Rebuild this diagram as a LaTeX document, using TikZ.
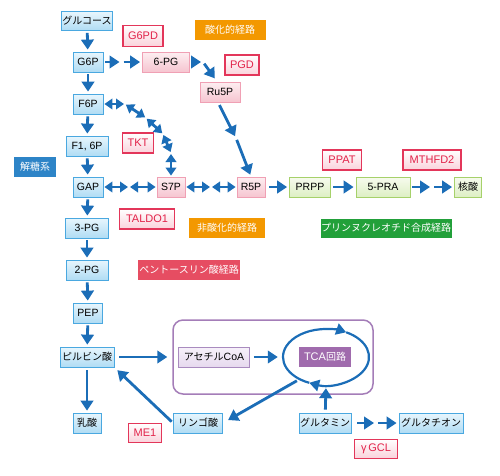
\documentclass[tikz,border=0pt]{standalone}
\usepackage{fontspec}
\setmainfont{Liberation Sans}
\newfontfamily\jp{Noto Sans CJK JP}
\usetikzlibrary{arrows.meta,shapes.geometric}
\definecolor{arr}{HTML}{1B6DB7}
\definecolor{blline}{HTML}{4AA8E0}
\definecolor{bltop}{HTML}{E8F6FD}
\definecolor{blbot}{HTML}{B0DCF4}
\definecolor{pkline}{HTML}{F0A0B4}
\definecolor{pktop}{HTML}{FDEEF1}
\definecolor{pkbot}{HTML}{F6C5D0}
\definecolor{enzline}{HTML}{E3365A}
\definecolor{enzbot}{HTML}{FAD2DB}
\definecolor{enztext}{HTML}{E2234A}
\definecolor{grline}{HTML}{A6D16A}
\definecolor{grtop}{HTML}{F7FBEE}
\definecolor{grbot}{HTML}{DDEFC4}
\definecolor{puline}{HTML}{A98BBF}
\definecolor{putop}{HTML}{F7F1FA}
\definecolor{pubot}{HTML}{E6D9EE}
\definecolor{mitoline}{HTML}{A47DB8}
\definecolor{laborange}{HTML}{F39800}
\definecolor{labblue}{HTML}{2D84C7}
\definecolor{labred}{HTML}{E64D62}
\definecolor{labgreen}{HTML}{22A03A}
\definecolor{labpurple}{HTML}{A06BAD}
\begin{document}
\begin{tikzpicture}[x=1pt,y=-1pt,
  sz/.style 2 args={minimum width=#1pt,minimum height=#2pt},
  box/.style={draw,line width=0.8pt,inner sep=0pt,font=\fontsize{10.5}{12}\selectfont},
  bl/.style={box,draw=blline,top color=bltop,bottom color=blbot},
  pk/.style={box,draw=pkline,top color=pktop,bottom color=pkbot},
  gr/.style={box,draw=grline,top color=grtop,bottom color=grbot},
  pu/.style={box,draw=puline,top color=putop,bottom color=pubot},
  enz/.style={box,draw=enzline,line width=1.2pt,top color=white,bottom color=enzbot,text=enztext,font=\fontsize{11}{12}\selectfont},
  lab/.style={inner sep=0pt,text=white,font=\jp\fontsize{10}{11}\selectfont},
  jt/.style={font=\jp\fontsize{10}{11}\selectfont},
  ar/.style={draw=arr,line width=2.8pt,-{Triangle[length=10pt,width=12.5pt]},shorten <=2pt,shorten >=2pt},
  dar/.style={draw=arr,line width=2.8pt,{Triangle[length=8pt,width=10.5pt]}-{Triangle[length=8pt,width=10.5pt]},shorten <=1pt,shorten >=1pt},
  ringar/.style={draw=arr,line width=2.2pt,-{Triangle[length=10pt,width=11.5pt]}}
]
\useasboundingbox (0,0) rectangle (500,475);
% mitochondrion frame
\node[draw=mitoline,line width=1.5pt,rounded corners=10pt,sz={200}{74}] (mito) at (273,357) {};
% glycolysis
\node[bl,sz={51}{19},jt] (glc) at (87,21) {グルコース};
\node[bl,sz={30}{20}] (g6p) at (88,62) {G6P};
\node[bl,sz={30}{20}] (f6p) at (88,104) {F6P};
\node[bl,sz={42}{20}] (f16p) at (87,146) {F1, 6P};
\node[bl,sz={30}{20}] (gap) at (88,187) {GAP};
\node[bl,sz={43}{20}] (pg3) at (87,228) {3-PG};
\node[bl,sz={42}{20}] (pg2) at (87,270) {2-PG};
\node[bl,sz={29}{20}] (pep) at (88,313) {PEP};
\node[bl,sz={54}{20},jt] (pyr) at (87,357) {ピルビン酸};
\node[bl,sz={28}{20},jt] (lac) at (87,423) {乳酸};
\node[bl,sz={49}{20},jt] (mal) at (198,423) {リンゴ酸};
\node[bl,sz={52}{20},jt] (gln) at (325,423) {グルタミン};
\node[bl,sz={64}{20},jt] (gsh) at (431,423) {グルタチオン};
% pentose phosphate
\node[pk,sz={47}{20}] (pg6) at (166,62) {6-PG};
\node[pk,sz={40}{20}] (ru5p) at (220,92) {Ru5P};
\node[pk,sz={28}{20}] (s7p) at (171,187) {S7P};
\node[pk,sz={28}{20}] (r5p) at (251,187) {R5P};
% purine
\node[gr,sz={41}{20}] (prpp) at (310,187) {PRPP};
\node[gr,sz={54}{20}] (pra) at (383,187) {5-PRA};
\node[gr,sz={27}{20},jt] (nuc) at (468,187) {核酸};
% mitochondrial
\node[pu,sz={71}{20}] (acoa) at (214,357) {{\jp\fontsize{10}{11}\selectfont アセチル}CoA};
\node[ellipse,inner sep=0pt,sz={86}{56}] (ring) at (326,357) {};
\node[lab,fill=labpurple,sz={52}{20},font=\fontsize{11}{12}\selectfont] (tca) at (325,357) {TCA{\jp\fontsize{10}{11}\selectfont 回路}};
% enzymes
\node[enz,sz={40}{21}] (e1) at (143,36) {G6PD};
\node[enz,sz={34}{20}] (e2) at (242,65) {PGD};
\node[enz,sz={31}{20}] (e3) at (138,143) {TKT};
\node[enz,sz={55}{20}] (e4) at (147,219) {TALDO1};
\node[enz,sz={39}{20}] (e5) at (342,160) {PPAT};
\node[enz,sz={58}{20}] (e6) at (432,160) {MTHFD2};
\node[enz,sz={33}{19}] (e7) at (145,433) {ME1};
\node[enz,sz={43}{19}] (e8) at (376,449) {γ\,GCL};
% pathway labels
\node[lab,fill=laborange,sz={71}{20}] (l1) at (230,30) {酸化的経路};
\node[lab,fill=laborange,sz={76}{20}] (l2) at (227,228) {非酸化的経路};
\node[lab,fill=labblue,sz={42}{20}] (l3) at (35,167) {解糖系};
\node[lab,fill=labred,sz={102}{20}] (l4) at (189,270) {ペントースリン酸経路};
\node[lab,fill=labgreen,sz={131}{19}] (l5) at (386,228) {プリンヌクレオチド合成経路};
% helper coordinates
\coordinate (m1) at (121.5,62);
\coordinate (m2) at (203,62);
\coordinate (t2) at (216,80);
\coordinate (m3) at (236,138);
\coordinate (k1) at (125,104);
\coordinate (k2) at (146,118);
\coordinate (k3) at (163,134);
\coordinate (k4) at (171,153);
\coordinate (m4) at (129,187);
\coordinate (m5) at (211,187);
\coordinate (m6) at (432,187);
\coordinate (m7) at (376,423);
% glycolysis arrows
\draw[ar] (glc) -- (g6p);
\draw[ar] (g6p) -- (f6p);
\draw[ar] (f6p) -- (f16p);
\draw[ar] (f16p) -- (gap);
\draw[ar] (gap) -- (pg3);
\draw[ar] (pg3) -- (pg2);
\draw[ar] (pg2) -- (pep);
\draw[ar] (pep) -- (pyr);
\draw[ar,shorten <=3pt] (pyr) -- (lac);
% oxidative branch
\draw[ar] (g6p) -- (m1);
\draw[ar] (m1) -- (pg6);
\draw[ar,shorten >=2pt] (pg6) -- (m2);
\draw[ar] (m2) -- (t2);
\draw[ar,shorten <=3pt] (ru5p.south) ++(-2,0) coordinate (rs) (rs) -- (m3);
\draw[ar] (m3) -- (r5p.north);
% non-oxidative arc
\draw[dar] (f6p) -- (k1);
\draw[dar] (k1) -- (k2);
\draw[dar] (k2) -- (k3);
\draw[dar] (k3) -- (k4);
\draw[dar] (k4) -- (s7p);
\draw[dar] (gap) -- (m4);
\draw[dar] (m4) -- (s7p);
\draw[dar] (s7p) -- (m5);
\draw[dar] (m5) -- (r5p);
% purine
\draw[ar,shorten <=4pt] (r5p) -- (prpp);
\draw[ar] (prpp) -- (pra);
\draw[ar] (pra) -- (m6);
\draw[ar] (m6) -- (nuc);
% mitochondria
\draw[ar,shorten <=5pt,shorten >=5pt] (pyr) -- (mito.west |- pyr);
\draw[ar,shorten <=4pt,shorten >=5pt] (acoa) -- (ring.west);
\draw[ringar] (ring.center) ++(113:43 and 28) arc[start angle=113,end angle=298,x radius=43,y radius=28];
\draw[ringar] (ring.center) ++(298:43 and 28) arc[start angle=298,end angle=473,x radius=43,y radius=28];
\draw[ar,shorten <=3pt,shorten >=6pt] (ring.220) -- (mal.east);
\draw[ar,shorten <=2pt,shorten >=4pt] (mal.west) -- (pyr.south east);
\draw[ar,shorten <=3pt,shorten >=3pt] (gln) -- (ring.south);
\draw[ar,shorten <=6pt] (gln) -- (m7);
\draw[ar] (m7) -- (gsh);
\end{tikzpicture}
\end{document}
